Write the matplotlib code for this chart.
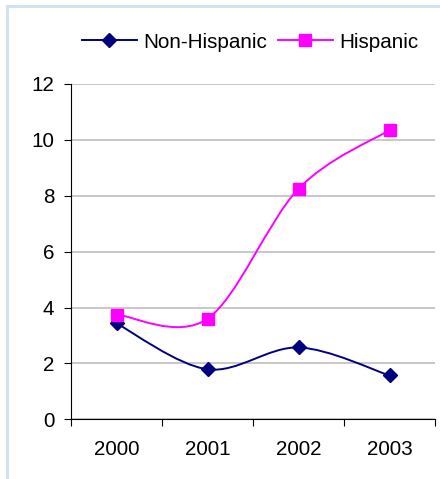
import matplotlib
matplotlib.use("Agg")
import matplotlib.pyplot as plt
from matplotlib.path import Path
from matplotlib.patches import PathPatch, Rectangle
from matplotlib.lines import Line2D
import numpy as np

plt.rcParams['font.family'] = ['Liberation Sans', 'DejaVu Sans']

years = ["2000", "2001", "2002", "2003"]
non_hispanic = [3.43, 1.79, 2.57, 1.57]
hispanic = [3.75, 3.6, 8.25, 10.35]
y_ticks = [0, 2, 4, 6, 8, 10, 12]

NAVY = "#000080"
MAGENTA = "#FF00FF"

W, H, DPI = 440, 479, 100
fig = plt.figure(figsize=(W / DPI, H / DPI), dpi=DPI)
fig.patch.set_facecolor("white")

# light blue frame around the chart area (left and top edges visible)
frame = Rectangle((6.5 / W, -0.1), 1.2, (H - 5.5) / H + 0.1,
                  transform=fig.transFigure, fill=False,
                  edgecolor="#d3e2f2", linewidth=2.2, clip_on=False)
fig.patches.append(frame)

ax = fig.add_axes([71 / W, (H - 419.3) / H, (435 - 71) / W, (419.3 - 84) / H])


def smooth_path(xs, ys):
    """Cubic Bezier curve through the points (Catmull-Rom style smoothing)."""
    pts = np.column_stack([xs, ys]).astype(float)
    n = len(pts)
    verts = [pts[0]]
    codes = [Path.MOVETO]
    for i in range(n - 1):
        p0 = pts[i - 1] if i > 0 else pts[i]
        p1 = pts[i]
        p2 = pts[i + 1]
        p3 = pts[i + 2] if i + 2 < n else pts[i + 1]
        c1 = p1 + (p2 - p0) / 6.0
        c2 = p2 - (p3 - p1) / 6.0
        verts += [c1, c2, p2]
        codes += [Path.CURVE4] * 3
    return Path(verts, codes)


x = np.arange(len(years))
for vals, color, marker, ms in [(non_hispanic, NAVY, "D", 7.0),
                                (hispanic, MAGENTA, "s", 8.6)]:
    ax.add_patch(PathPatch(smooth_path(x, vals), facecolor="none",
                           edgecolor=color, linewidth=1.4, zorder=3))
    ax.plot(x, vals, linestyle="none", marker=marker, markersize=ms,
            color=color, markeredgecolor=color, zorder=4, clip_on=False)

ax.set_xlim(-0.5, len(years) - 0.5)
ax.set_ylim(0, 12)
ax.set_yticks(y_ticks)
ax.set_yticklabels([str(v) for v in y_ticks])
ax.set_xticks(np.arange(len(years) + 1) - 0.5)
ax.set_xticklabels([])
ax.set_xticks(x, minor=True)
ax.set_xticklabels(years, minor=True)

ax.grid(axis="y", color="#c4c4c4", linewidth=1.3)
ax.set_axisbelow(True)
for side in ("top", "right"):
    ax.spines[side].set_visible(False)
for side in ("left", "bottom"):
    ax.spines[side].set_color("black")
    ax.spines[side].set_linewidth(0.8)

ax.tick_params(axis="y", direction="out", length=5, width=0.8,
               labelsize=14.9, pad=7)
ax.tick_params(axis="x", which="major", direction="out", length=5, width=0.8)
ax.tick_params(axis="x", which="minor", length=0, labelsize=14.9, pad=15)

handles = [Line2D([], [], color=NAVY, marker="D", markersize=7.0, linewidth=1.4),
           Line2D([], [], color=MAGENTA, marker="s", markersize=8.6, linewidth=1.4)]
fig.legend(handles, ["Non-Hispanic", "Hispanic"], ncol=2, frameon=False,
           loc="center left", bbox_to_anchor=(82 / W, (H - 42) / H),
           fontsize=14.9, handlelength=2.64, handletextpad=0.3,
           columnspacing=0.55, borderpad=0, borderaxespad=0)

fig.savefig("out.png", dpi=DPI, facecolor="white")
